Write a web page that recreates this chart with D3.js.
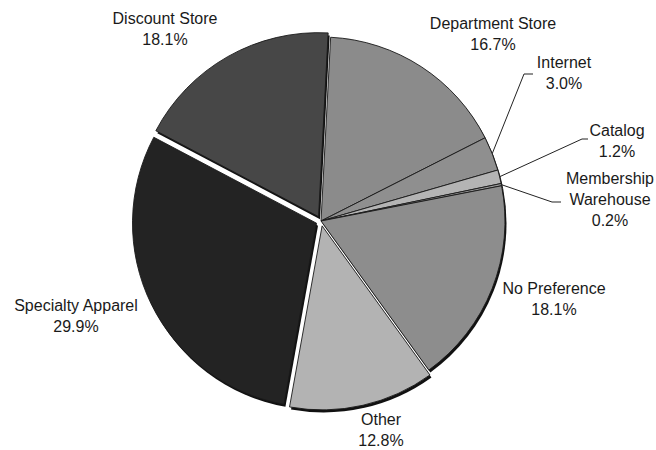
<!DOCTYPE html>
<html>
<head>
<meta charset="utf-8">
<script src="https://cdn.jsdelivr.net/npm/d3@7"></script>
<style>
  body { margin: 0; background: #fff; }
  svg { display: block; }
  text { font-family: "Liberation Sans", Arial, sans-serif; font-size: 16px; fill: #1a1a1a; }
</style>
</head>
<body>
<script>
// data
const categories = ["Department Store", "Internet", "Catalog", "Membership Warehouse",
  "No Preference", "Other", "Specialty Apparel", "Discount Store"];
const shares = [16.7, 3.0, 1.2, 0.2, 18.1, 12.8, 29.9, 18.1];
const labelLines = [["Department Store"], ["Internet"], ["Catalog"], ["Membership", "Warehouse"],
  ["No Preference"], ["Other"], ["Specialty Apparel"], ["Discount Store"]];

// styling / layout (not data)
const fills = ["#8b8b8b", "#8f8f8f", "#b4b4b4", "#9a9a9a", "#8d8d8d", "#b3b3b3", "#232323", "#474747"];
const explode = [0, 0, 0, 0, 0, 5, 5, 5];
// label anchor: x centre, baseline of first line
const labelAt = [[493, 29], [564, 68], [617, 136], [610, 184], [554, 294], [381, 425], [76, 311], [165, 24]];
// leader elbows (only for the small slices)
const leaders = [null, [[524, 74], [533, 74]], [[582, 139], [588, 139]], [[552, 202], [561, 202]],
  null, null, null, null];

const width = 656, height = 450;
const cx = 321, cy = 221, radius = 184;
const lineH = 21;

const svg = d3.select("body").append("svg")
  .attr("width", width)
  .attr("height", height);

const pie = d3.pie()
  .sort(null)
  .startAngle(3 * Math.PI / 180)
  .endAngle(363 * Math.PI / 180)
  .value(d => d);

const arcs = pie(shares);
const arc = d3.arc().innerRadius(0).outerRadius(radius);

const offset = (d, i) => {
  let a = (d.startAngle + d.endAngle) / 2;
  return [Math.sin(a) * explode[i], -Math.cos(a) * explode[i]];
};

let g = svg.append("g").attr("transform", "translate(" + cx + "," + cy + ")");

// shadows first, so neighbours cover them
g.append("g")
  .selectAll("path")
  .data(arcs)
  .enter().append("path")
  .attr("d", arc)
  .attr("fill", "#111")
  .attr("transform", (d, i) => {
    let o = offset(d, i);
    return "translate(" + (o[0] + 1.5) + "," + (o[1] + 2.5) + ")";
  });

g.append("g")
  .selectAll("path")
  .data(arcs)
  .enter().append("path")
  .attr("d", arc)
  .attr("fill", (d, i) => fills[i])
  .attr("stroke", "#1a1a1a")
  .attr("stroke-width", 0.9)
  .attr("stroke-linejoin", "round")
  .attr("transform", (d, i) => "translate(" + offset(d, i) + ")");

// leader lines
arcs.forEach((d, i) => {
  if (!leaders[i]) return;
  let a = (d.startAngle + d.endAngle) / 2;
  let o = offset(d, i);
  let start = [cx + o[0] + Math.sin(a) * radius, cy + o[1] - Math.cos(a) * radius];
  let pts = [start].concat(leaders[i]);
  svg.append("path")
    .attr("d", d3.line()(pts))
    .attr("fill", "none")
    .attr("stroke", "#222")
    .attr("stroke-width", 1);
});

// labels
const fmt = d3.format(".1f");
arcs.forEach((d, i) => {
  let lines = labelLines[i].concat([fmt(shares[i]) + "%"]);
  let t = svg.append("text")
    .attr("text-anchor", "middle")
    .attr("x", labelAt[i][0])
    .attr("y", labelAt[i][1]);
  lines.forEach((s, k) => {
    t.append("tspan")
      .attr("x", labelAt[i][0])
      .attr("dy", k === 0 ? 0 : lineH)
      .text(s);
  });
});
</script>
</body>
</html>
